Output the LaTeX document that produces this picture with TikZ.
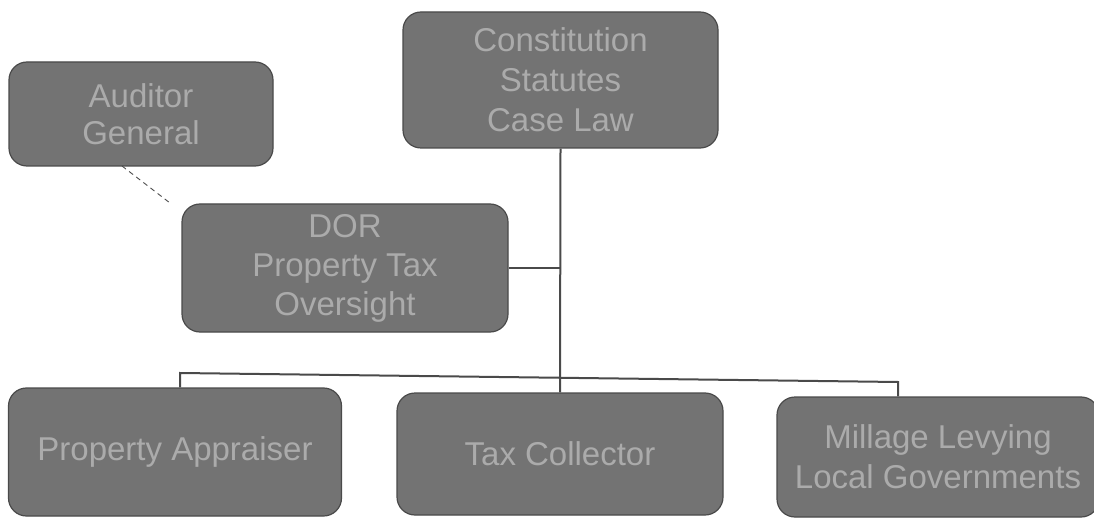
\documentclass[tikz,border=0pt]{standalone}
\usepackage{fontspec}
\setmainfont{Liberation Sans}
\definecolor{boxfill}{HTML}{737373}
\definecolor{boxtext}{HTML}{ABABAB}
\definecolor{boxline}{HTML}{4A4A4A}
\begin{document}
\begin{tikzpicture}[x=1pt,y=-1pt,
  orgbox/.style={draw=boxline, line width=1.2pt, fill=boxfill, rounded corners=18pt,
    text=boxtext, align=center, inner sep=0pt,
    font=\fontsize{33}{40}\selectfont},
  link/.style={draw=boxline, line width=2pt},
  dashlink/.style={draw=boxline, line width=0.9pt, dash pattern=on 5pt off 4pt}]
\useasboundingbox[fill=white] (0,0) rectangle (1094,521);
\node[orgbox, minimum width=315pt, minimum height=136pt] (con) at (560.5,80) {Constitution\\Statutes\\Case Law};
\node[orgbox, minimum width=264pt, minimum height=104pt, font=\fontsize{33}{37}\selectfont] (aud) at (141,114) {Auditor\\General};
\node[orgbox, minimum width=326pt, minimum height=128pt, font=\fontsize{33}{39}\selectfont] (dor) at (345,268) {DOR\\Property Tax\\Oversight};
\node[orgbox, minimum width=333pt, minimum height=128pt] (pa) at (175,452) {Property Appraiser};
\node[orgbox, minimum width=326pt, minimum height=122pt] (tc) at (560,454) {Tax Collector};
\node[orgbox, minimum width=322pt, minimum height=120pt] (mi) at (938,457) {Millage Levying\\Local Governments};
\coordinate (barL) at (180,373);
\coordinate (barR) at (898,382);
\coordinate (d1) at (122,166);
\coordinate (d2) at (170,203);
\draw[link] (con.south) -- (tc.north);
\draw[link] (dor.east) -- (dor.east -| con.south);
\draw[link] (pa.north -| barL) -- (barL) -- (barR) -- (mi.north -| barR);
\draw[dashlink] (d1) -- (d2);
\end{tikzpicture}
\end{document}
